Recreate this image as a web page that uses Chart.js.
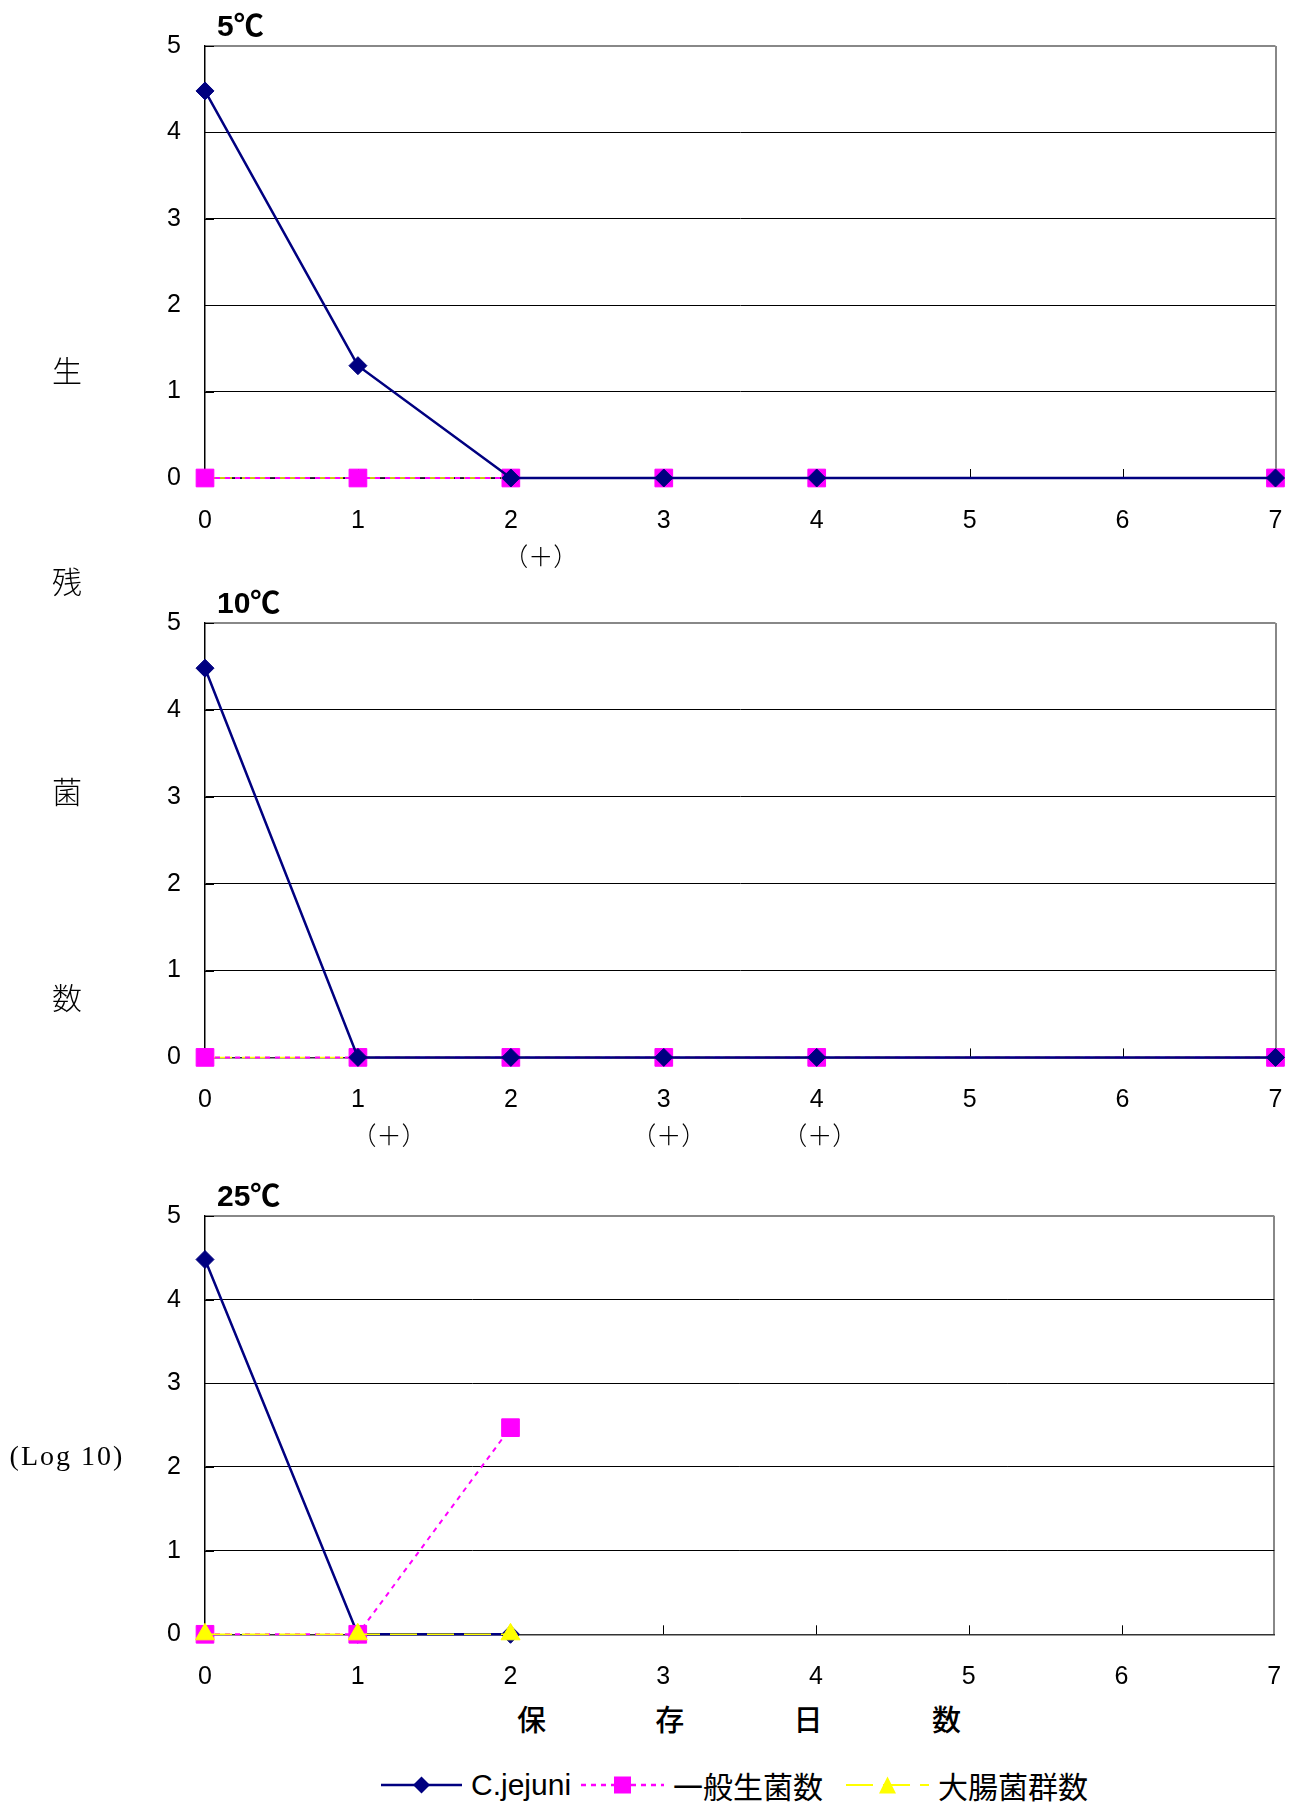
<!DOCTYPE html>
<html lang="ja">
<head>
<meta charset="utf-8">
<title>保存日数と生残菌数</title>
<script src="https://cdn.jsdelivr.net/npm/chart.js@4.4.1/dist/chart.umd.min.js"></script>
<style>
  html, body { margin: 0; padding: 0; background: #fff; }
  body { width: 1293px; height: 1802px; position: relative; overflow: hidden;
         font-family: 'Liberation Sans', 'Noto Sans CJK JP', sans-serif; color: #000; }
  .panel { position: absolute; left: 0; width: 1293px; }
  .panel canvas { display: block; }
  .side { position: absolute; transform: translate(-50%, -50%); white-space: nowrap;
          font-family: 'Noto Sans CJK JP', serif; font-weight: 300; font-size: 30px; }
  .side.log { font-family: 'Liberation Serif', 'DejaVu Serif', serif; font-size: 28px; letter-spacing: 2px; font-weight: 400; }
  #xtitle { position: absolute; left: 517px; top: 1718px; transform: translateY(-50%);
            font-family: 'Noto Sans CJK JP', sans-serif; font-size: 29px; font-weight: 500; letter-spacing: 109.3px; white-space: nowrap; }
  #legend { position: absolute; left: 0; top: 1785px; width: 1293px; height: 0; }
  .lg-item { position: absolute; top: 0; display: flex; align-items: center; transform: translateY(-50%); }
  .lg-item svg { display: block; }
  .lg-item span { font-size: 30px; margin-left: 9px; white-space: nowrap; font-family: 'Liberation Sans', 'Noto Sans CJK JP', sans-serif; }
</style>
</head>
<body>

<div class="panel" style="top:0px;height:575px;"><canvas id="c1" width="1293" height="575"></canvas></div>
<div class="panel" style="top:575px;height:575px;"><canvas id="c2" width="1293" height="575"></canvas></div>
<div class="panel" style="top:1150px;height:540px;"><canvas id="c3" width="1293" height="540"></canvas></div>

<div class="side" style="left:67px;top:369px;">生</div>
<div class="side" style="left:67px;top:580px;">残</div>
<div class="side" style="left:67px;top:790px;">菌</div>
<div class="side" style="left:67px;top:996px;">数</div>
<div class="side log" style="left:67px;top:1456px;">(Log 10)</div>

<div id="xtitle">保存日数</div>

<div id="legend">
  <div class="lg-item" style="left:381px;">
    <svg width="81" height="20" viewBox="0 0 81 20">
      <line x1="0" y1="10" x2="81" y2="10" stroke="#000080" stroke-width="2.5"/>
      <polygon points="40.5,1.5 49,10 40.5,18.5 32,10" fill="#000080"/>
    </svg>
    <span>C.jejuni</span>
  </div>
  <div class="lg-item" style="left:581px;">
    <svg width="83" height="20" viewBox="0 0 83 20">
      <line x1="0" y1="10" x2="83" y2="10" stroke="#FF00FF" stroke-width="2.5" stroke-dasharray="5 5"/>
      <rect x="33" y="1.5" width="17" height="17" fill="#FF00FF"/>
    </svg>
    <span>一般生菌数</span>
  </div>
  <div class="lg-item" style="left:846px;">
    <svg width="83" height="20" viewBox="0 0 83 20">
      <line x1="0" y1="10" x2="83" y2="10" stroke="#FFFF00" stroke-width="2" stroke-dasharray="27 10"/>
      <polygon points="41.5,1.5 50,18.5 33,18.5" fill="#FFFF00"/>
    </svg>
    <span>大腸菌群数</span>
  </div>
</div>

<script>
// Storage days on the x axis
const days = ['0', '1', '2', '3', '4', '5', '6', '7'];
const panelTitles = ['5℃', '10℃', '25℃'];
const seriesNames = ['C.jejuni', '一般生菌数', '大腸菌群数'];

// 5℃ (log10 counts; days 5 and 6 not measured)
const cjejuni5   = [4.48, 1.3, 0, 0, 0, null, null, 0];
const general5   = [0, 0, 0, 0, 0, null, null, 0];
const coliform5  = [0, 0, 0, 0, 0, null, null, 0];
const plusDays5  = [2];

// 10℃
const cjejuni10  = [4.48, 0, 0, 0, 0, null, null, 0];
const general10  = [0, 0, 0, 0, 0, null, null, 0];
const coliform10 = [0, 0, 0, 0, 0, null, null, 0];
const plusDays10 = [1, 3, 4];

// 25℃ (measured up to day 2)
const cjejuni25  = [4.48, 0, 0];
const general25  = [0, 0, 2.47];
const coliform25 = [0, 0, 0];
const plusDays25 = [];

// y axis range and step
const yMin = 0, yMax = 5, yStep = 1;

const NAVY = '#000080', MAGENTA = '#FF00FF', YELLOW = '#FFFF00';
const tickFont = { family: "'Liberation Sans', 'Noto Sans CJK JP', sans-serif", size: 25 };

// draws inward tick marks, the panel title and the (+) notes under the day labels
const decor = {
  id: 'decor',
  beforeDatasetsDraw(chart) {
    const { ctx, chartArea: a, scales: { x, y } } = chart;
    ctx.save();
    ctx.strokeStyle = '#000';
    ctx.lineWidth = 1;
    ctx.beginPath();
    for (let i = 1; i < x.ticks.length - 1; i++) {
      const px = Math.round(x.getPixelForTick(i)) + 0.5;
      ctx.moveTo(px, a.bottom);
      ctx.lineTo(px, a.bottom - 9);
    }
    for (let i = 0; i < y.ticks.length; i++) {
      const py = Math.round(y.getPixelForTick(i)) + 0.5;
      ctx.moveTo(a.left, py);
      ctx.lineTo(a.left + 9, py);
    }
    ctx.stroke();
    ctx.restore();
  },
  afterDraw(chart, args, opts) {
    const { ctx, chartArea: a, scales: { x } } = chart;
    ctx.save();
    ctx.fillStyle = '#000';
    ctx.font = "bold 30px 'Liberation Sans', 'Noto Sans CJK JP', sans-serif";
    ctx.textAlign = 'left';
    ctx.textBaseline = 'middle';
    ctx.fillText(opts.title, a.left + 12, a.top - 18);
    ctx.font = "300 25px 'Noto Sans CJK JP', sans-serif";
    ctx.textAlign = 'center';
    (opts.plus || []).forEach((d, i) => {
      const dx = (opts.plusShift || [])[i] || 0;
      ctx.fillText('（＋）', x.getPixelForValue(d) + dx, a.bottom + 78);
    });
    ctx.restore();
  }
};

function makeChart(id, title, cj, gen, coli, plus, plusShift, pad, xHeight, showColiMarks, topOrderColi) {
  const ds = [
    { label: seriesNames[0], data: cj, borderColor: NAVY, backgroundColor: NAVY,
      borderWidth: 2.5, pointStyle: 'rectRot', pointRadius: 9, pointBorderWidth: 1,
      pointBorderColor: NAVY, order: topOrderColi ? 2 : 0 },
    { label: seriesNames[1], data: gen, borderColor: MAGENTA, backgroundColor: MAGENTA,
      borderWidth: 2, borderDash: [5, 5], pointStyle: 'rect', pointRadius: 12.5, pointBorderWidth: 1,
      pointBorderColor: MAGENTA, order: 1 },
    { label: seriesNames[2], data: coli, borderColor: YELLOW, backgroundColor: YELLOW,
      borderWidth: 1.5, borderDash: [27, 10], pointStyle: 'triangle',
      pointRadius: showColiMarks ? 11 : 0, pointBorderWidth: 1,
      pointBorderColor: YELLOW, order: topOrderColi ? 0 : 2 }
  ];
  ds.forEach(d => { d.fill = false; d.tension = 0; d.spanGaps = true; d.clip = false; d.pointHoverRadius = d.pointRadius; });

  return new Chart(document.getElementById(id), {
    type: 'line',
    data: { labels: days, datasets: ds },
    options: {
      responsive: false,
      maintainAspectRatio: false,
      animation: false,
      devicePixelRatio: 1,
      events: [],
      layout: { padding: pad },
      plugins: {
        legend: { display: false },
        tooltip: { enabled: false },
        decor: { title, plus, plusShift }
      },
      scales: {
        x: {
          type: 'category',
          offset: false,
          // fixed axis band; side padding comes from layout.padding only
          afterFit: s => { s.height = xHeight; s.paddingLeft = 0; s.paddingRight = 0; },
          grid: {
            drawTicks: false,
            color: c => (c.index === days.length - 1 ? '#888888' : 'rgba(0,0,0,0)'),
            lineWidth: 2
          },
          border: { color: '#333', width: 1.5 },
          ticks: { color: '#000', font: tickFont, padding: 28, maxRotation: 0, autoSkip: false }
        },
        y: {
          min: yMin, max: yMax,
          afterFit: s => { s.width = 60; },
          grid: {
            drawTicks: false,
            color: c => (c.tick.value === yMax ? '#888888' : '#000'),
            lineWidth: c => (c.tick.value === yMax ? 2 : 1)
          },
          border: { color: '#000', width: 1.5 },
          ticks: { color: '#000', font: tickFont, padding: 24, stepSize: yStep }
        }
      }
    },
    plugins: [decor]
  });
}

makeChart('c1', panelTitles[0], cjejuni5, general5, coliform5, plusDays5, [30],
  { left: 145, right: 17.5, top: 46, bottom: 0 }, 97, false, false);
makeChart('c2', panelTitles[1], cjejuni10, general10, coliform10, plusDays10, [31, 5, 3],
  { left: 145, right: 17.5, top: 48, bottom: 0 }, 92.6, false, false);
makeChart('c3', panelTitles[2], cjejuni25, general25, coliform25, plusDays25, [],
  { left: 145, right: 18.7, top: 66, bottom: 0 }, 55.7, true, true);
</script>
</body>
</html>
